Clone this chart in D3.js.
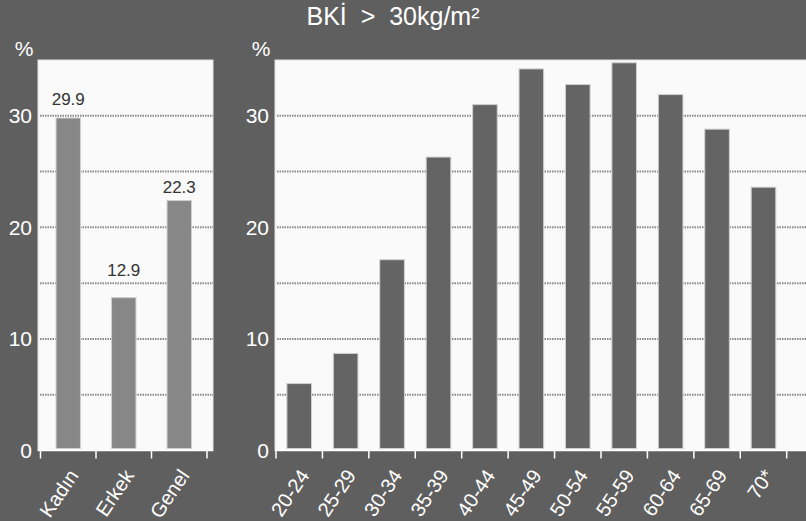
<!DOCTYPE html>
<html><head><meta charset="utf-8">
<script src="https://cdn.jsdelivr.net/npm/d3@7"></script>
<style>
html,body{margin:0;padding:0;background:#5f5f5f;}
svg{display:block;font-family:"Liberation Sans",Arial,Helvetica,sans-serif;}
</style></head>
<body>
<svg id="chart" width="806" height="521"></svg>
<script>
const titleText = "BKİ  >  30kg/m²";
const sexCategories = ["Kadın", "Erkek", "Genel"];
const sexValues = [29.8, 13.7, 22.4];
const sexLabels = ["29.9", "12.9", "22.3"];
const sexLabelAt = [31.0, 15.6, 23.05];
const ageCategories = ["20-24","25-29","30-34","35-39","40-44","45-49","50-54","55-59","60-64","65-69","70*"];
const ageValues = [6.0, 8.7, 17.1, 26.3, 31.0, 34.2, 32.8, 34.75, 31.9, 28.8, 23.6];
const yTickValues = [0, 10, 20, 30];
const gridValues = [5, 10, 15, 20, 25, 30];
const yUnit = "%";

const svg = d3.select("#chart");
const W = 806, H = 521;
svg.append("rect").attr("width", W).attr("height", H).attr("fill", "#5f5f5f");

svg.append("text").attr("x", 393).attr("y", 25).attr("text-anchor", "middle")
  .attr("fill", "#ffffff").attr("font-size", 25).style("white-space", "pre")
  .text(titleText);

const y = d3.scaleLinear().domain([0, 35]).range([450.5, 60]);

function panel(opts) {
  const { categories, values, left, right, rangeX, pInner, pOuter, barFill } = opts;
  const x = d3.scaleBand().domain(categories).range(rangeX)
    .paddingInner(pInner).paddingOuter(pOuter);
  const g = svg.append("g");
  g.append("rect").attr("x", left).attr("y", y(35)).attr("width", right - left)
    .attr("height", y(0) - y(35)).attr("fill", "#fafafa").attr("stroke", "#e4e4e4").attr("stroke-width", 1);
  g.selectAll("line.grid").data(gridValues).join("line").attr("class", "grid")
    .attr("x1", left + 2).attr("x2", right).attr("y1", d => y(d)).attr("y2", d => y(d))
    .attr("stroke", "#8a8a8a").attr("stroke-width", 2).attr("stroke-dasharray", "1.5,1");
  g.selectAll("rect.bar").data(values).join("rect").attr("class", "bar")
    .attr("x", (d, i) => x(categories[i])).attr("width", x.bandwidth())
    .attr("y", d => y(d)).attr("height", d => y(0) - 2 - y(d))
    .attr("fill", barFill).attr("stroke", "#cfcfcf").attr("stroke-width", 1);
  g.append("line").attr("x1", left).attr("x2", right).attr("y1", y(0)).attr("y2", y(0))
    .attr("stroke", "#ffffff").attr("stroke-width", 1.5);
  const step = x.step();
  const gap = step - x.bandwidth();
  const tickXs = categories.map(c => x(c) - gap / 2);
  tickXs.push(x(categories[categories.length - 1]) + x.bandwidth() + gap / 2);
  g.selectAll("line.tick").data(tickXs).join("line").attr("class", "tick")
    .attr("x1", d => d).attr("x2", d => d).attr("y1", y(0)).attr("y2", y(0) + 8)
    .attr("stroke", "#ffffff").attr("stroke-width", 1.5);
  g.selectAll("text.cat").data(categories).join("text").attr("class", "cat")
    .attr("transform", d => `translate(${x(d) + x.bandwidth() / 2 + 11},${y(0) + 25}) rotate(-56)`)
    .attr("text-anchor", "end").attr("fill", "#ffffff").attr("font-size", 20)
    .text(d => d);
  g.selectAll("text.ytick").data(yTickValues).join("text").attr("class", "ytick")
    .attr("x", left - 6).attr("y", d => y(d)).attr("dy", "0.36em")
    .attr("text-anchor", "end").attr("fill", "#ffffff").attr("font-size", 21)
    .text(d => d);
  g.append("text").attr("x", left - 14).attr("y", 56).attr("text-anchor", "middle")
    .attr("fill", "#ffffff").attr("font-size", 21).text(yUnit);
  return { x, g };
}

const p1 = panel({ categories: sexCategories, values: sexValues, left: 38, right: 213,
  rangeX: [40.5, 207], pInner: 0.56, pOuter: 0.28, barFill: "#878787" });
p1.g.selectAll("text.val").data(sexLabels).join("text").attr("class", "val")
  .attr("x", (d, i) => p1.x(sexCategories[i]) + p1.x.bandwidth() / 2)
  .attr("y", (d, i) => y(sexLabelAt[i])).attr("text-anchor", "middle")
  .attr("fill", "#333333").attr("font-size", 17).text(d => d);

panel({ categories: ageCategories, values: ageValues, left: 275, right: 810,
  rangeX: [276, 786.7], pInner: 0.47, pOuter: 0.235, barFill: "#646464" });
</script>
</body></html>
